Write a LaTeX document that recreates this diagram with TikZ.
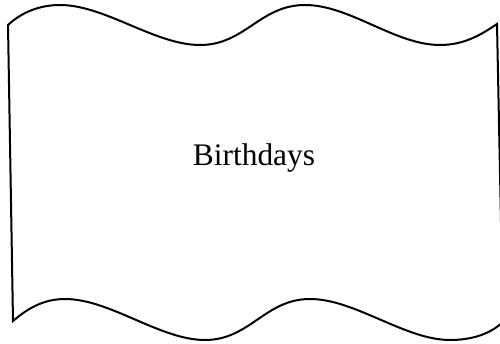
\documentclass[tikz,border=0pt]{standalone}
\usepackage{fontspec}
\setmainfont{Liberation Serif}
\begin{document}
\begin{tikzpicture}[x=1pt,y=-1pt,
  waveshape/.style={draw=black,line width=2pt,line join=miter},
  label/.style={font=\fontsize{31.4}{36}\selectfont,anchor=base,inner sep=0pt}]
\useasboundingbox (0,0) rectangle (500,344);
\draw[waveshape] (8,25)
  .. controls (22,12) and (40,5) .. (60,5)
  .. controls (105,5) and (155,45) .. (200,45)
  .. controls (245,45) and (260,5) .. (305,5)
  .. controls (350,5) and (395,45) .. (440,45)
  .. controls (465,45) and (482,34) .. (497,24)
  -- (503,322)
  .. controls (490,334) and (472,340) .. (450,340)
  .. controls (405,340) and (355,299) .. (310,299)
  .. controls (265,299) and (250,340) .. (205,340)
  .. controls (160,340) and (110,299) .. (65,299)
  .. controls (43,299) and (27,309) .. (13,321)
  -- cycle;
\node[label] (t) at (254,166) {Birthdays};
\end{tikzpicture}
\end{document}
